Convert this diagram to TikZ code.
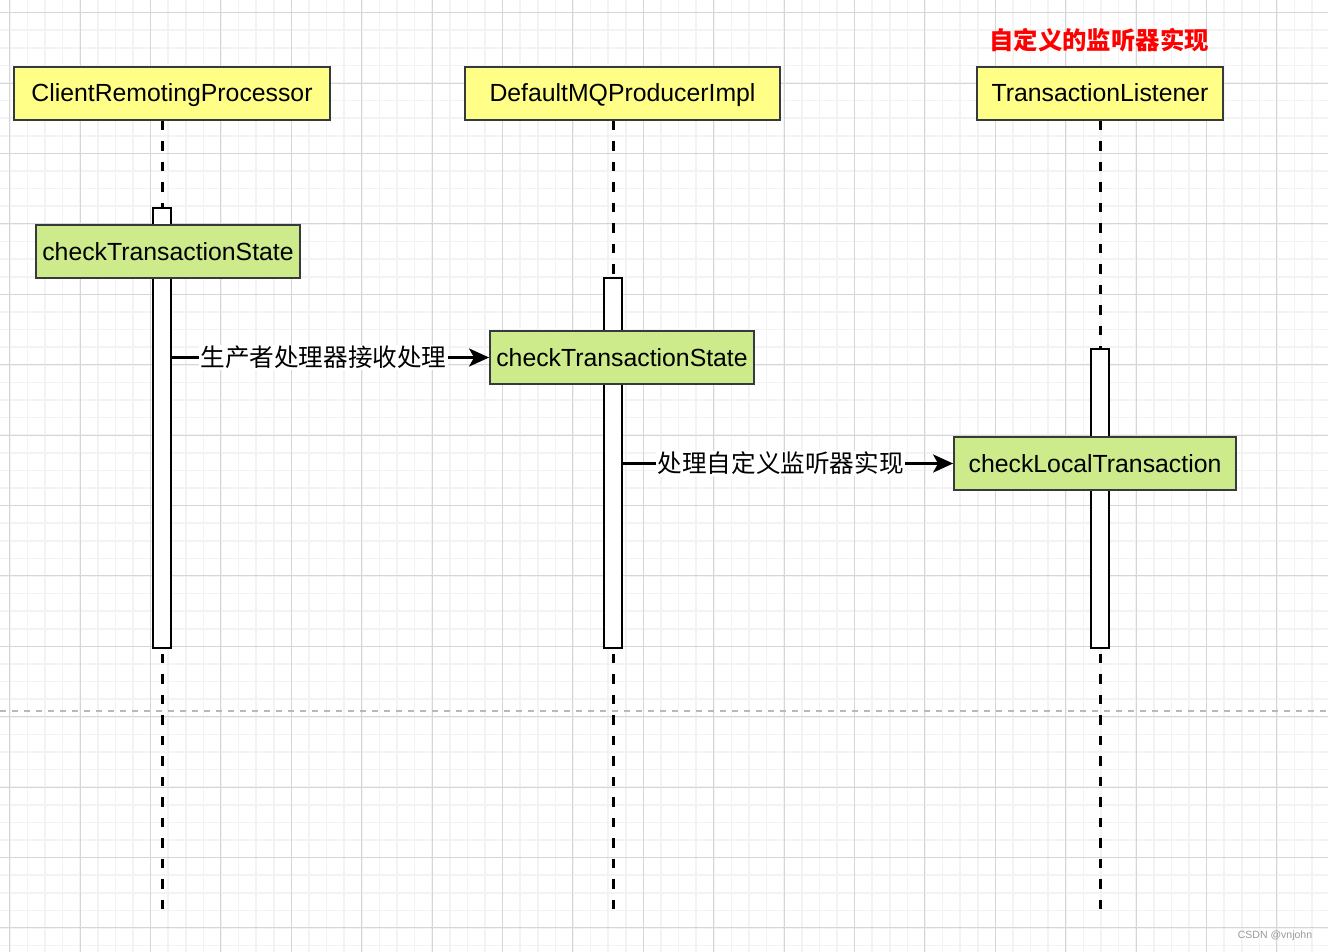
\documentclass[tikz,border=0pt]{standalone}
\usepackage{fontspec}
\setmainfont{Liberation Sans}
\newfontfamily\cjk{Noto Sans CJK SC}
\usetikzlibrary{arrows.meta}

\definecolor{headyellow}{HTML}{FFFF88}
\definecolor{callgreen}{HTML}{CDEB8B}
\definecolor{boxline}{HTML}{36393D}
\definecolor{gridmajor}{HTML}{D6D6D6}
\definecolor{gridminor}{HTML}{F3F3F3}

\begin{document}
\begin{tikzpicture}[x=1pt, y=-1pt,
    lifehead/.style={rectangle, draw=boxline, fill=headyellow, line width=1.8pt,
        minimum height=53, inner sep=0pt, text height=20pt, text depth=3pt,
        font=\fontsize{24.8}{28}\selectfont},
    callbox/.style={rectangle, draw=boxline, fill=callgreen, line width=1.8pt,
        minimum height=53, inner sep=0pt, text height=20pt, text depth=3pt,
        font=\fontsize{24.8}{28}\selectfont},
    actbar/.style={rectangle, draw=black, fill=white, line width=1.8pt,
        minimum width=18, inner sep=0pt},
    lifeline/.style={line width=3pt, dash pattern=on 9.5pt off 11pt},
    msg/.style={line width=3pt, -{Stealth[length=20pt, width=18pt, inset=5pt]}},
    msglabel/.style={pos=0.478, fill=white, inner sep=1.5pt,
        font=\cjk\fontsize{24.6}{28}\selectfont}]

    \useasboundingbox[fill=white] (0,0) rectangle (1328,952);

    % background grid
    \foreach \k in {-1,...,75}
        \draw[gridminor, line width=1.6pt] ({9.7+17.6*\k},0) -- ++(0,952);
    \foreach \k in {-1,...,54}
        \draw[gridminor, line width=1.6pt] (0,{12.7+17.6*\k}) -- ++(1328,0);
    \foreach \k in {0,...,18}
        \draw[gridmajor, line width=1pt] ({9.7+70.4*\k},0) -- ++(0,952);
    \foreach \k in {0,...,13}
        \draw[gridmajor, line width=1pt] (0,{12.7+70.4*\k}) -- ++(1328,0);

    % separator
    \draw[gray!55, line width=2pt, dash pattern=on 6pt off 6pt] (0,711) -- (1328,711);

    % lifeline heads
    \node[lifehead, minimum width=316] (crp) at (172,93.5) {ClientRemotingProcessor};
    \node[lifehead, minimum width=315] (dmq) at (622.5,93.5) {DefaultMQProducerImpl};
    \node[lifehead, minimum width=246] (tl) at (1100,93.5) {TransactionListener};
    \node[text=red, font=\cjk\bfseries\fontsize{24.4}{28}\selectfont] (note)
        at (1099,40) {自定义的监听器实现};

    % activation bars
    \coordinate (bottom) at (0,910);
    \node[actbar, minimum height=440] (bar1) at (162,428) {};
    \node[actbar, minimum height=370] (bar2) at (613,463) {};
    \node[actbar, minimum height=299] (bar3) at (1100,498.5) {};

    \draw[lifeline] (bar1 |- crp.south) -- (bar1 |- bottom);
    \draw[lifeline] (bar2 |- dmq.south) -- (bar2 |- bottom);
    \draw[lifeline] (bar3 |- tl.south) -- (bar3 |- bottom);

    \node[actbar, minimum height=440] at (bar1) {};
    \node[actbar, minimum height=370] at (bar2) {};
    \node[actbar, minimum height=299] at (bar3) {};

    % calls
    \node[callbox, minimum width=264] (call1) at (168,251.5) {checkTransactionState};
    \node[callbox, minimum width=264] (call2) at (622,357.5) {checkTransactionState};
    \node[callbox, minimum width=282] (call3) at (1095,463.5) {checkLocalTransaction};

    % messages
    \draw[msg] (bar1.east |- call2) -- (call2.west)
        node[msglabel] {生产者处理器接收处理};
    \draw[msg] (bar2.east |- call3) -- (call3.west)
        node[msglabel] {处理自定义监听器实现};

    \node[text=gray!80, font=\fontsize{10.5}{12}\selectfont] (mark) at (1275,936) {CSDN @vnjohn};

\end{tikzpicture}
\end{document}
